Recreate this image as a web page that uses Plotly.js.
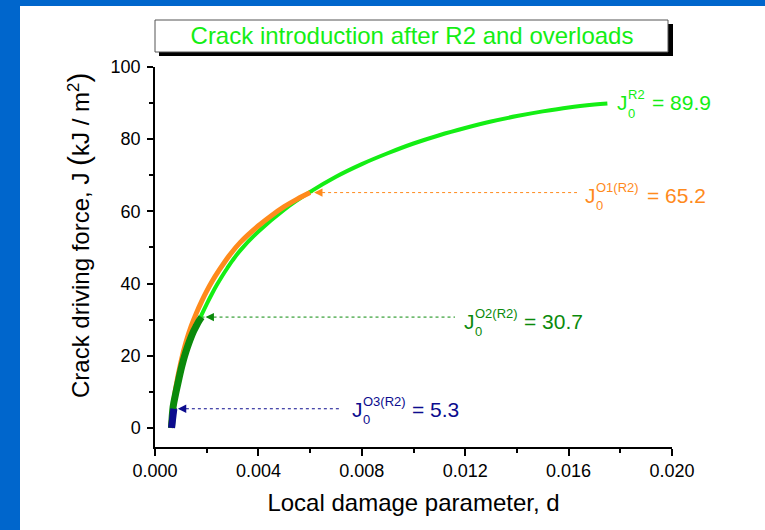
<!DOCTYPE html>
<html>
<head>
<meta charset="utf-8">
<script src="https://cdn.plot.ly/plotly-3.0.1.min.js"></script>
<style>
  html, body { margin: 0; padding: 0; background: #0066cc; width: 765px; height: 530px; overflow: hidden; }
  #chart { position: absolute; left: 20px; top: 6px; width: 745px; height: 524px; background: #ffffff; }
</style>
</head>
<body>
<div id="chart"></div>
<script>
// ---------------- data ----------------
const xTickVals = [0, 0.004, 0.008, 0.012, 0.016, 0.020];
const xTickText = ['0.000', '0.004', '0.008', '0.012', '0.016', '0.020'];
const yTickVals = [0, 20, 40, 60, 80, 100];
const yTickText = ['0', '20', '40', '60', '80', '100'];

// R2 (crack introduction after R2)
const dR2 = [0.0006, 0.0007, 0.0008, 0.0010, 0.0012, 0.0014, 0.0016, 0.0018, 0.0020, 0.0022, 0.0024, 0.0026, 0.0028, 0.0030, 0.0033, 0.0040, 0.0050, 0.0060, 0.0070, 0.0080, 0.0090, 0.0100, 0.0110, 0.0120, 0.0130, 0.0140, 0.0150, 0.0160, 0.0170, 0.0175];
const jR2 = [0, 5, 9, 15.5, 20.5, 24.6, 28.1, 31.3, 34.3, 37.1, 39.7, 42.1, 44.3, 46.4, 49.2, 54.4, 60.5, 65.4, 69.6, 73.1, 76.1, 78.8, 81.1, 83.1, 84.9, 86.4, 87.7, 88.8, 89.6, 89.9];

// O1(R2)
const dO1 = [0.0006, 0.0007, 0.0008, 0.0010, 0.0012, 0.0014, 0.0016, 0.0018, 0.0020, 0.0022, 0.0025, 0.0029, 0.0033, 0.0040, 0.0045, 0.0050, 0.0055, 0.0060];
const jO1 = [0, 6, 11, 18.2, 23.8, 28.2, 31.8, 35.0, 37.9, 40.5, 43.9, 48.0, 51.4, 56.0, 58.8, 61.3, 63.4, 65.2];

// O2(R2)
const dO2 = [0.00064, 0.0007, 0.0008, 0.0009, 0.0010, 0.0011, 0.0012, 0.0013, 0.0014, 0.0015, 0.0016, 0.0017, 0.0018];
const jO2 = [0, 5.8, 9.5, 12.8, 16.0, 18.8, 21.2, 23.3, 25.2, 26.9, 28.3, 29.6, 30.7];

// O3(R2)
const dO3 = [0.00064, 0.00067, 0.00070, 0.00073];
const jO3 = [0, 1.8, 3.6, 5.3];

const seriesNames = ['R2', 'O1(R2)', 'O2(R2)', 'O3(R2)'];
const j0Values = [89.9, 65.2, 30.7, 5.3];

// ---------------- styling ----------------
const FONT = 'Liberation Sans, Arial, Helvetica, sans-serif';
const cGreen = '#14ee14';
const cOrange = '#ff8a1c';
const cDark = '#0b8a0b';
const cNavy = '#0c0c8e';
const colors = [cGreen, cOrange, cDark, cNavy];
const widths = [4, 5, 7, 7];
const dSets = [dR2, dO1, dO2, dO3];
const jSets = [jR2, jO1, jO2, jO3];

// plot area in page pixels: x 155..672, y 67..447 (chart div offset 20,6)
const PX = x => (x - 155) / 517;
const PY = y => (447 - y) / 380;
const dAtPx = x => (x - 155) / 517 * 0.020;

const traces = dSets.map((d, i) => ({
  type: 'scatter', mode: 'lines', name: seriesNames[i],
  x: d, y: jSets[i],
  line: { color: colors[i], width: widths[i], shape: 'spline', smoothing: 1 },
  hoverinfo: 'x+y'
}));

// label layout (page pixels): J left edge, vertical centre, "= value" left edge, dashed line end
const labelLayout = [
  { jLeft: 617, cy: 102.5, eqLeft: 652, dashEnd: null },
  { jLeft: 585, cy: 195,   eqLeft: 647, dashEnd: 577 },
  { jLeft: 464, cy: 321,   eqLeft: 524, dashEnd: 455 },
  { jLeft: 352, cy: 409,   eqLeft: 412, dashEnd: 340 }
];

const annotations = [];
const shapes = [];

// title box shadow + box
shapes.push({ type: 'rect', xref: 'paper', yref: 'paper', x0: PX(159), x1: PX(673), y0: PY(56), y1: PY(24),
  fillcolor: '#000000', line: { width: 0 }, layer: 'above' });
shapes.push({ type: 'rect', xref: 'paper', yref: 'paper', x0: PX(155), x1: PX(668), y0: PY(52), y1: PY(20),
  fillcolor: '#ffffff', line: { color: '#555555', width: 1 }, layer: 'above' });

seriesNames.forEach((nm, i) => {
  const L = labelLayout[i];
  const col = colors[i];
  const d = dSets[i];
  const dEnd = d[d.length - 1];
  const jEnd = j0Values[i];
  if (L.dashEnd !== null) {
    shapes.push({ type: 'line', xref: 'x', yref: 'y', x0: dEnd, x1: dAtPx(L.dashEnd), y0: jEnd, y1: jEnd,
      line: { color: col, width: 1, dash: '3px,3px' }, layer: 'below' });
    annotations.push({ x: dEnd, y: jEnd, xref: 'x', yref: 'y', text: '', showarrow: true,
      ax: 12, ay: 0, arrowhead: 2, arrowsize: 1.4, arrowwidth: 1.2, arrowcolor: col, standoff: 4 });
  }
  const base = { xref: 'paper', yref: 'paper', showarrow: false, xanchor: 'left', yanchor: 'middle', borderpad: 0 };
  annotations.push(Object.assign({}, base, { x: PX(L.jLeft - 1), y: PY(L.cy), text: 'J',
    font: { family: FONT, size: 21, color: col } }));
  annotations.push(Object.assign({}, base, { x: PX(L.jLeft + 10), y: PY(L.cy - 8), text: nm,
    font: { family: FONT, size: 13, color: col } }));
  annotations.push(Object.assign({}, base, { x: PX(L.jLeft + 10), y: PY(L.cy + 10.5), text: '0',
    font: { family: FONT, size: 13, color: col } }));
  annotations.push(Object.assign({}, base, { x: PX(L.eqLeft - 1), y: PY(L.cy + 0.5), text: '= ' + j0Values[i].toFixed(1),
    font: { family: FONT, size: 21, color: col } }));
});

// y axis title (placed as rotated text)
annotations.push({ xref: 'paper', yref: 'paper', x: PX(78), y: PY(236), xanchor: 'center', yanchor: 'middle',
  textangle: -90, showarrow: false,
  text: 'Crack driving force, J <span style="font-size:30px">(</span>kJ / m<sup>2</sup><span style="font-size:30px">)</span>',
  font: { family: FONT, size: 24, color: '#000000' } });

const layout = {
  width: 745, height: 524,
  margin: { l: 135, r: 93, t: 61, b: 83, pad: 0 },
  paper_bgcolor: '#ffffff', plot_bgcolor: '#ffffff',
  showlegend: false,
  title: { text: 'Crack introduction after R2 and overloads', xref: 'container', yref: 'container',
    x: (412 - 20) / 745, y: 1 - (36 - 6) / 524, xanchor: 'center', yanchor: 'middle',
    font: { family: FONT, size: 24, color: cGreen } },
  xaxis: {
    range: [0, 0.020], tickvals: xTickVals, ticktext: xTickText,
    ticks: 'outside', ticklen: 7, tickwidth: 1.5, tickcolor: '#000',
    showline: true, linewidth: 1.5, linecolor: '#000', showgrid: false, zeroline: false,
    tickfont: { family: FONT, size: 18, color: '#000' },
    minor: { dtick: 0.002, ticks: 'outside', ticklen: 4, tickwidth: 1.5, tickcolor: '#000', showgrid: false },
    title: { text: 'Local damage parameter, d', standoff: 14, font: { family: FONT, size: 24, color: '#000' } },
    fixedrange: true
  },
  yaxis: {
    range: [-5.3, 100], tickvals: yTickVals, ticktext: yTickText,
    ticks: 'outside', ticklen: 6, tickwidth: 1.5, tickcolor: '#000',
    showline: true, linewidth: 1.5, linecolor: '#000', showgrid: false, zeroline: false,
    tickfont: { family: FONT, size: 18, color: '#000' },
    minor: { dtick: 10, ticks: 'outside', ticklen: 4, tickwidth: 1.5, tickcolor: '#000', showgrid: false },
    ticklabelstandoff: 3,
    fixedrange: true
  },
  shapes: shapes,
  annotations: annotations
};

Plotly.newPlot('chart', traces, layout, { displayModeBar: false, responsive: false });
</script>
</body>
</html>
